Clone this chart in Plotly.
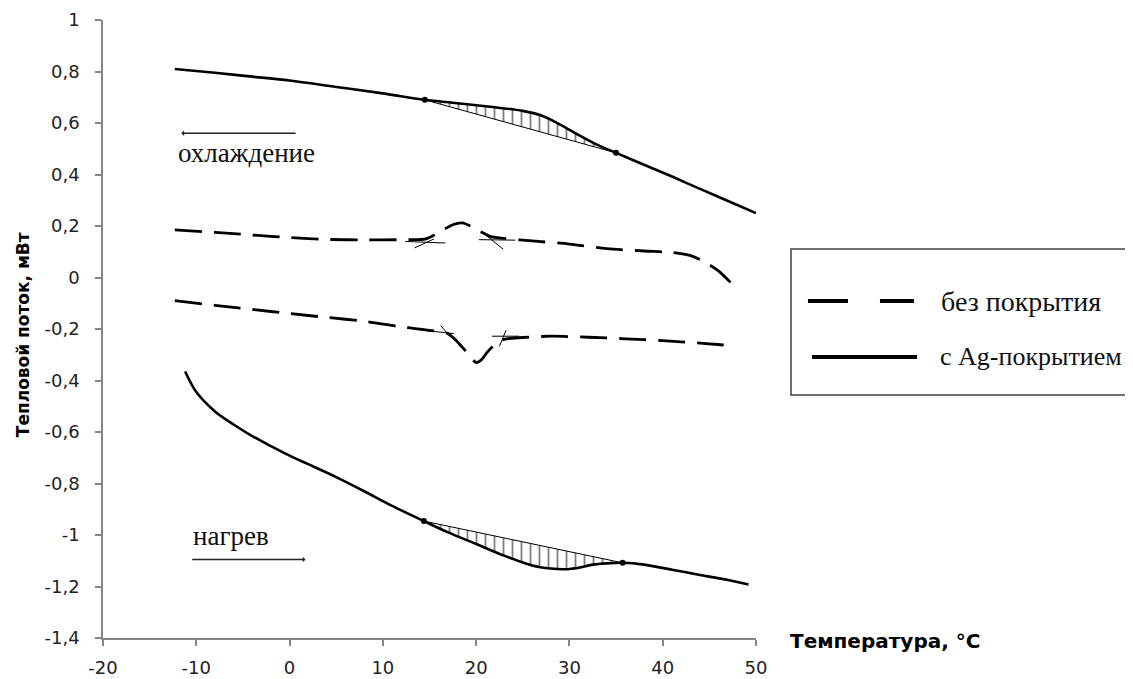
import plotly.graph_objects as go

# ---------------- data ----------------
# cooling, with Ag coating (solid, upper)
cool_ag_x = [-12.3, -8, -4, 0, 5, 10, 14.5, 18, 22, 25, 27, 29, 31, 33, 35, 38, 41, 44, 47, 50]
cool_ag_y = [0.81, 0.795, 0.78, 0.765, 0.74, 0.715, 0.69, 0.677, 0.661, 0.647, 0.629, 0.594, 0.553, 0.515, 0.484, 0.438, 0.392, 0.344, 0.297, 0.25]
# chord under cooling peak
cool_chord_x = [14.5, 35]
cool_chord_y = [0.69, 0.484]

# heating, with Ag coating (solid, lower)
heat_ag_x = [-11.2, -10, -8, -6, -4, -2, 0, 2, 5, 8, 11, 14.4, 17, 20, 23, 26, 28, 29.5, 31, 32.5, 34, 35.7, 38, 41, 44, 47, 49.2]
heat_ag_y = [-0.365, -0.445, -0.52, -0.571, -0.616, -0.655, -0.692, -0.725, -0.775, -0.83, -0.887, -0.946, -0.99, -1.035, -1.08, -1.118, -1.13, -1.133, -1.127, -1.115, -1.11, -1.108, -1.115, -1.135, -1.155, -1.175, -1.192]
heat_chord_x = [14.4, 35.7]
heat_chord_y = [-0.946, -1.108]

# cooling, no coating (dashed, upper)
cool_bare_x = [-12.3, -8, -4, 0, 4, 8, 12, 14.6, 16, 17.5, 18.5, 19.5, 20.5, 21.5, 23, 26, 30, 34, 38, 41, 43, 44.5, 46, 47.5]
cool_bare_y = [0.185, 0.175, 0.165, 0.155, 0.148, 0.146, 0.147, 0.15, 0.175, 0.205, 0.212, 0.198, 0.178, 0.16, 0.152, 0.142, 0.13, 0.112, 0.103, 0.097, 0.085, 0.06, 0.025, -0.028]

# heating, no coating (dashed, lower)
heat_bare_x = [-12.3, -8, -4, 0, 4, 8, 12, 15, 17, 18, 19, 20, 20.5, 21.2, 22, 23, 25, 28, 32, 36, 40, 44, 47.5]
heat_bare_y = [-0.09, -0.108, -0.124, -0.14, -0.155, -0.17, -0.192, -0.205, -0.218, -0.25, -0.29, -0.33, -0.322, -0.29, -0.26, -0.24, -0.233, -0.228, -0.232, -0.238, -0.245, -0.255, -0.265]

# tangent construction lines at the peaks (None separates segments)
tangent_x = [12.4, 16.7, None, 13.4, 15.5, None, 20.3, 24.2, None, 21.0, 22.9, None,
             13.9, 17.6, None, 16.2, 17.3, None, 21.7, 24.6, None, 22.5, 23.2]
tangent_y = [0.140, 0.134, None, 0.115, 0.150, None, 0.147, 0.145, None, 0.166, 0.110, None,
             -0.203, -0.218, None, -0.187, -0.233, None, -0.228, -0.228, None, -0.267, -0.205]

x_ticks = [-20, -10, 0, 10, 20, 30, 40, 50]
x_ticktext = ["-20", "-10", "0", "10", "20", "30", "40", "50"]
y_ticks = [1, 0.8, 0.6, 0.4, 0.2, 0, -0.2, -0.4, -0.6, -0.8, -1, -1.2, -1.4]
y_ticktext = ["1", "0,8", "0,6", "0,4", "0,2", "0", "-0,2", "-0,4", "-0,6", "-0,8", "-1", "-1,2", "-1,4"]

label_bare = "без покрытия"
label_ag = "с Ag-покрытием"
label_cool = "охлаждение"
label_heat = "нагрев"
x_title = "Температура, °C"
y_title = "Тепловой поток, мВт"

# --------------- figure ---------------
fig = go.Figure()

DASH = "27px,12px"
hatch = dict(shape="|", fgcolor="black", bgcolor="rgba(0,0,0,0)", size=9, solidity=0.2)


def segment(xs, ys, lo, hi):
    sx, sy = [], []
    for a, b in zip(xs, ys):
        if lo <= a <= hi:
            sx.append(a)
            sy.append(b)
    return sx, sy


# hatched area for cooling peak
fig.add_trace(go.Scatter(x=cool_chord_x, y=cool_chord_y, mode="lines",
                         line=dict(color="black", width=1), showlegend=False, hoverinfo="skip"))
sx, sy = segment(cool_ag_x, cool_ag_y, cool_chord_x[0], cool_chord_x[1])
fig.add_trace(go.Scatter(x=sx, y=sy, mode="lines", line=dict(color="rgba(0,0,0,0)", width=0, shape="spline"),
                         fill="tonexty", fillcolor="rgba(0,0,0,0)", fillpattern=hatch,
                         showlegend=False, hoverinfo="skip"))

# hatched area for heating peak
fig.add_trace(go.Scatter(x=heat_chord_x, y=heat_chord_y, mode="lines",
                         line=dict(color="black", width=1), showlegend=False, hoverinfo="skip"))
sx, sy = segment(heat_ag_x, heat_ag_y, heat_chord_x[0], heat_chord_x[1])
fig.add_trace(go.Scatter(x=sx, y=sy, mode="lines", line=dict(color="rgba(0,0,0,0)", width=0, shape="spline"),
                         fill="tonexty", fillcolor="rgba(0,0,0,0)", fillpattern=hatch,
                         showlegend=False, hoverinfo="skip"))

# main curves
fig.add_trace(go.Scatter(x=cool_ag_x, y=cool_ag_y, mode="lines", name=label_ag,
                         line=dict(color="black", width=2.6, shape="spline", smoothing=1.0), showlegend=False))
fig.add_trace(go.Scatter(x=heat_ag_x, y=heat_ag_y, mode="lines", name=label_ag,
                         line=dict(color="black", width=2.6, shape="spline", smoothing=0.8), showlegend=False))
fig.add_trace(go.Scatter(x=cool_bare_x, y=cool_bare_y, mode="lines", name=label_bare,
                         line=dict(color="black", width=2.8, dash=DASH, shape="spline", smoothing=0.8), showlegend=False))
fig.add_trace(go.Scatter(x=heat_bare_x, y=heat_bare_y, mode="lines", name=label_bare,
                         line=dict(color="black", width=2.8, dash=DASH, shape="spline", smoothing=0.8), showlegend=False))

# tangents
fig.add_trace(go.Scatter(x=tangent_x, y=tangent_y, mode="lines", line=dict(color="black", width=1),
                         connectgaps=False, showlegend=False, hoverinfo="skip"))

# chord end points
fig.add_trace(go.Scatter(x=cool_chord_x + heat_chord_x, y=cool_chord_y + heat_chord_y, mode="markers",
                         marker=dict(color="black", size=6), showlegend=False, hoverinfo="skip"))

# direction arrows + labels
fig.add_annotation(x=-11.6, y=0.56, ax=0.8, ay=0.56, xref="x", yref="y", axref="x", ayref="y",
                   text="", showarrow=True, arrowhead=1, arrowsize=0.6, arrowwidth=1.5, arrowcolor="#222")
fig.add_annotation(x=-4.6, y=0.484, xref="x", yref="y", text=label_cool, showarrow=False,
                   font=dict(family="Liberation Serif", size=27, color="#111"))
fig.add_annotation(x=1.7, y=-1.095, ax=-10.6, ay=-1.095, xref="x", yref="y", axref="x", ayref="y",
                   text="", showarrow=True, arrowhead=1, arrowsize=0.6, arrowwidth=1.5, arrowcolor="#222")
fig.add_annotation(x=-6.3, y=-1.005, xref="x", yref="y", text=label_heat, showarrow=False,
                   font=dict(family="Liberation Serif", size=27, color="#111"))

# axis titles
fig.add_annotation(x=1.049, y=-0.005, xref="paper", yref="paper", xanchor="left", yanchor="middle",
                   text="<b>" + x_title + "</b>", showarrow=False,
                   font=dict(family="DejaVu Sans", size=20, color="black"))
fig.add_annotation(x=-0.1225, y=0.49, xref="paper", yref="paper", xanchor="center", yanchor="middle",
                   text="<b>" + y_title + "</b>", textangle=-90, showarrow=False,
                   font=dict(family="DejaVu Sans", size=17, color="black"))

# custom legend box
fig.add_shape(type="rect", xref="paper", yref="paper", x0=1.0536, x1=1.62, y0=0.3932, y1=0.6294,
              line=dict(color="#404040", width=1.5), fillcolor="white", layer="below")
fig.add_shape(type="line", xref="paper", yref="paper", x0=1.0796, x1=1.2419, y0=0.5453, y1=0.5453,
              line=dict(color="black", width=4, dash="40px,32px"))
fig.add_shape(type="line", xref="paper", yref="paper", x0=1.0858, x1=1.2466, y0=0.4547, y1=0.4547,
              line=dict(color="black", width=4))
fig.add_annotation(x=1.2802, y=0.5453, xref="paper", yref="paper", xanchor="left", yanchor="middle",
                   text=label_bare, showarrow=False,
                   font=dict(family="Liberation Serif", size=28, color="#111"))
fig.add_annotation(x=1.279, y=0.4547, xref="paper", yref="paper", xanchor="left", yanchor="middle",
                   text=label_ag, showarrow=False,
                   font=dict(family="Liberation Serif", size=26, color="#111"))

axis_common = dict(showgrid=False, zeroline=False, showline=True, linecolor="#868686", linewidth=1.5,
                   ticks="outside", ticklen=6, tickcolor="#868686", tickwidth=1.5, automargin=False,
                   tickfont=dict(family="DejaVu Sans", size=18, color="#222"))

# the page body adds an 8px offset, so the figure is sized to fit the window
fig.update_layout(
    width=1125, height=671,
    margin=dict(l=95, r=377, t=12, b=41),
    plot_bgcolor="white", paper_bgcolor="white",
    showlegend=False,
    xaxis=dict(range=[-20, 50], tickvals=x_ticks, ticktext=x_ticktext, ticklabelstandoff=7, **axis_common),
    yaxis=dict(range=[-1.4, 1], tickvals=y_ticks, ticktext=y_ticktext, ticklabelstandoff=12, **axis_common),
)

fig.write_html("out.html")
